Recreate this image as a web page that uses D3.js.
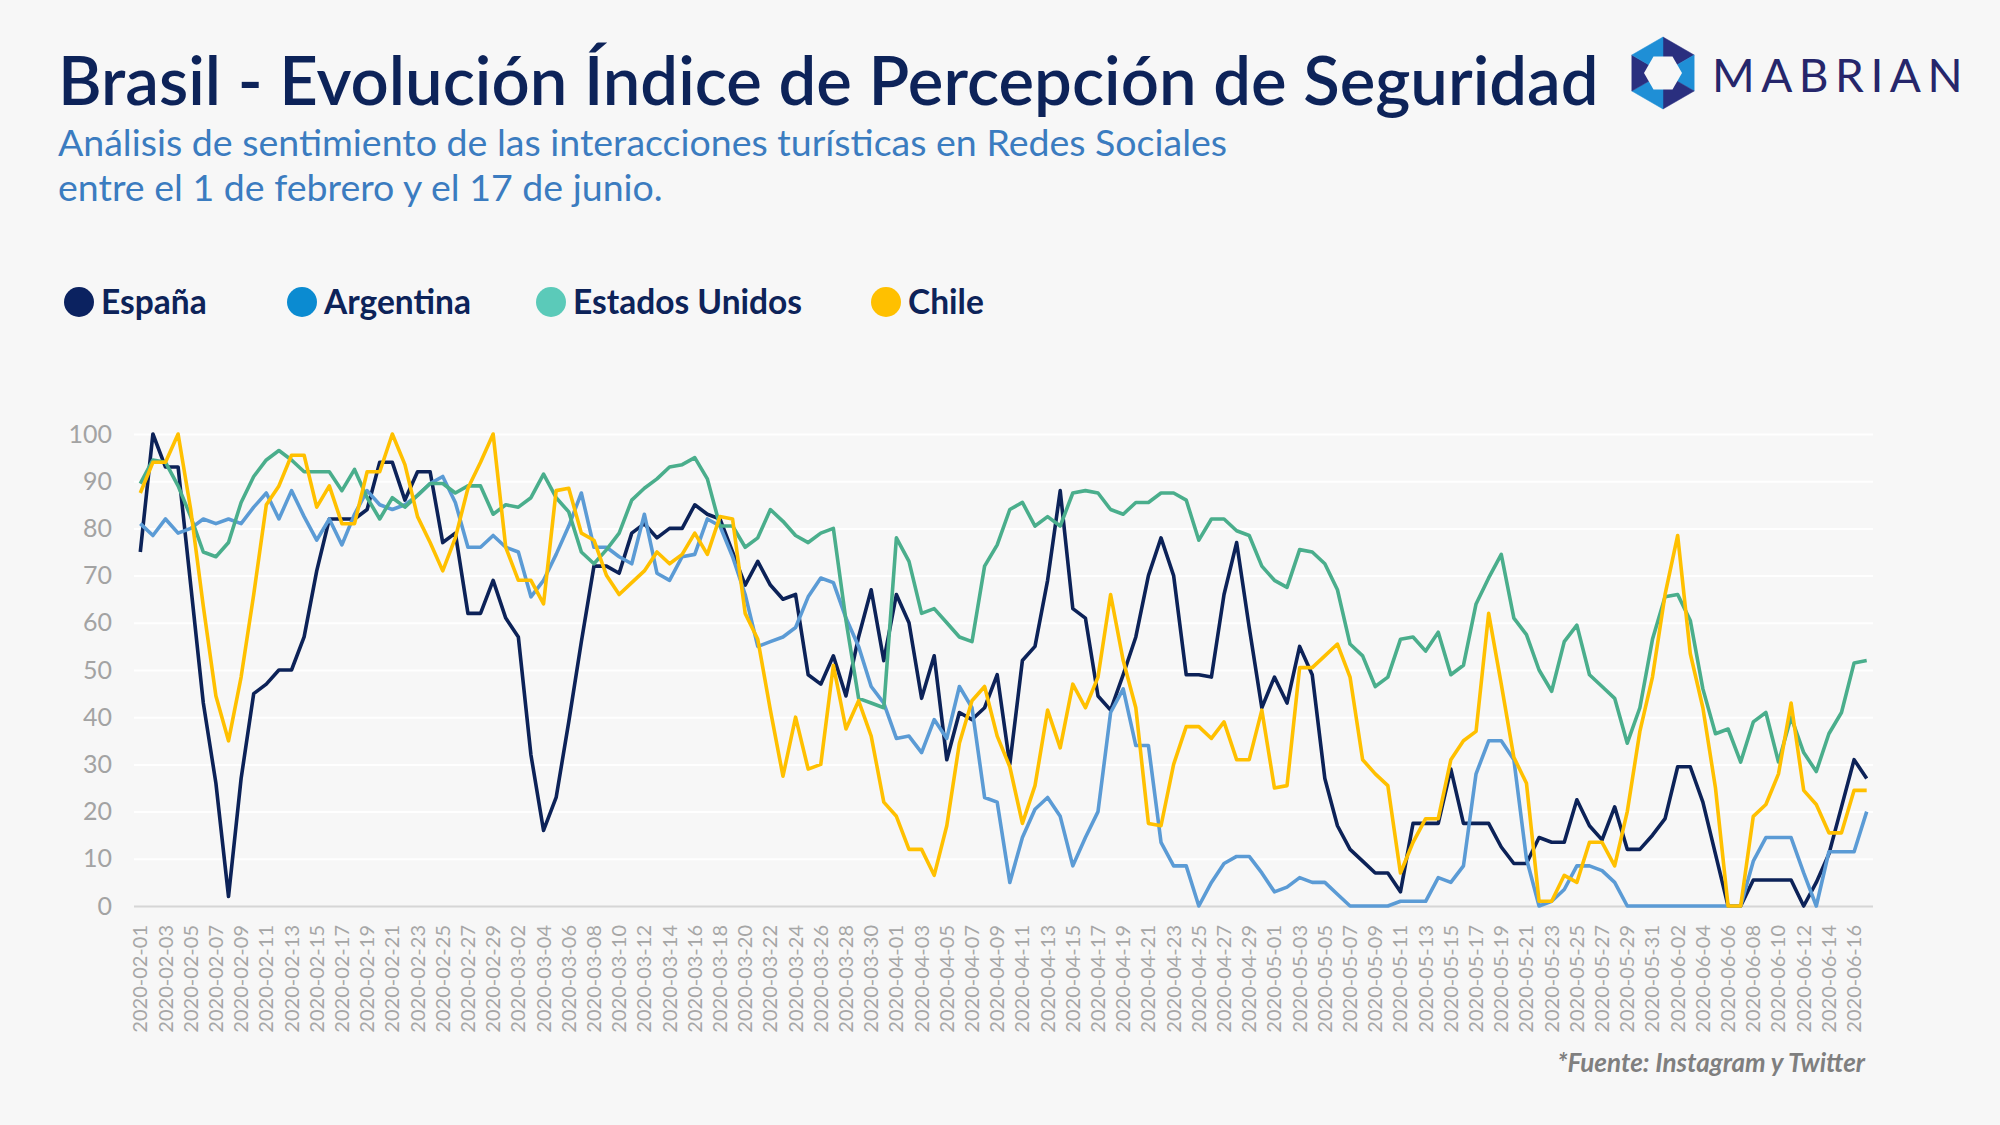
<!DOCTYPE html>
<html>
<head>
<meta charset="utf-8">
<script src="https://cdn.jsdelivr.net/npm/d3@7"></script>
<style>
  html, body { margin: 0; padding: 0; background: #f7f7f7; }
  svg { display: block; font-family: Lato, "Open Sans", sans-serif; }
</style>
</head>
<body>
<svg id="chart" width="2000" height="1125"></svg>
<script>
// daily categories: 2020-02-01 .. 2020-06-17
const startDate = new Date(2020, 1, 1);
const endDate = new Date(2020, 5, 18);

const seriesNames = ["España", "Argentina", "Estados Unidos", "Chile"];

const espana = [
  75, 100, 93, 93, 68, 43, 26, 2, 27, 45, 47, 50, 50, 57, 71, 82, 82, 82, 84, 94,
  94, 86, 92, 92, 77, 79, 62, 62, 69, 61, 57, 32, 16, 23, 39, 56, 72, 72, 70.5, 79,
  81, 78, 80, 80, 85, 83, 82, 75, 68, 73, 68, 65, 66, 49, 47, 53, 44.5, 57, 67, 52,
  66, 60, 44, 53, 31, 41, 39.5, 42, 49, 30, 52, 55, 69, 88, 63, 61, 44.5, 41.5, 49, 57,
  70, 78, 70, 49, 49, 48.5, 66, 77, 59, 42, 48.5, 43, 55, 49, 27, 17, 12, 9.5, 7, 7,
  3, 17.5, 17.5, 17.5, 29, 17.5, 17.5, 17.5, 12.5, 9, 9, 14.5, 13.5, 13.5, 22.5, 17, 14, 21, 12, 12,
  15, 18.5, 29.5, 29.5, 22, 11, 0, 0, 5.5, 5.5, 5.5, 5.5, 0, 5, 11, 21, 31, 27
];

const argentina = [
  81, 78.5, 82, 79, 80, 82, 81, 82, 81, 84.5, 87.5, 82, 88, 82.5, 77.5, 82, 76.5, 83, 88, 85,
  84, 85, 87, 89.5, 91, 85.5, 76, 76, 78.5, 76, 75, 65.5, 69, 74.5, 80.5, 87.5, 76, 76, 74, 72.5,
  83, 70.5, 69, 74, 74.5, 82, 80.5, 74, 66, 55, 56, 57, 59, 65.5, 69.5, 68.5, 61, 55, 46.5, 43,
  35.5, 36, 32.5, 39.5, 35.5, 46.5, 42, 23, 22, 5, 14.5, 20.5, 23, 19, 8.5, 14.5, 20, 41, 46, 34,
  34, 13.5, 8.5, 8.5, 0, 5, 9, 10.5, 10.5, 7, 3, 4, 6, 5, 5, 2.5, 0, 0, 0, 0,
  1, 1, 1, 6, 5, 8.5, 28, 35, 35, 31, 10, 0, 1, 3.5, 8.5, 8.5, 7.5, 5, 0, 0,
  0, 0, 0, 0, 0, 0, 0, 0, 9.5, 14.5, 14.5, 14.5, 7, 0, 11.5, 11.5, 11.5, 20
];

const estadosUnidos = [
  89.5, 94.5, 94, 89, 82.5, 75, 74, 77, 85.5, 91, 94.5, 96.5, 94.5, 92, 92, 92, 88, 92.5, 86.5, 82,
  86.5, 84.5, 87, 89.5, 89.5, 87.5, 89, 89, 83, 85, 84.5, 86.5, 91.5, 86.5, 83.5, 75, 72.5, 75.5, 79, 86,
  88.5, 90.5, 93, 93.5, 95, 90.5, 80.5, 80.5, 76, 78, 84, 81.5, 78.5, 77, 79, 80, 60.5, 44, 43, 42,
  78, 73, 62, 63, 60, 57, 56, 72, 76.5, 84, 85.5, 80.5, 82.5, 80.5, 87.5, 88, 87.5, 84, 83, 85.5,
  85.5, 87.5, 87.5, 86, 77.5, 82, 82, 79.5, 78.5, 72, 69, 67.5, 75.5, 75, 72.5, 67, 55.5, 53, 46.5, 48.5,
  56.5, 57, 54, 58, 49, 51, 64, 69.5, 74.5, 61, 57.5, 50, 45.5, 56, 59.5, 49, 46.5, 44, 34.5, 42,
  56.5, 65.5, 66, 60.5, 46, 36.5, 37.5, 30.5, 39, 41, 30.5, 40, 32.5, 28.5, 36.5, 41, 51.5, 52
];

const chile = [
  87.5, 94, 94, 100, 84, 63.5, 44.5, 35, 48.5, 66, 85, 89, 95.5, 95.5, 84.5, 89, 81, 81, 92, 92,
  100, 93.5, 82.5, 77, 71, 78, 88.5, 94, 100, 76, 69, 69, 64, 88, 88.5, 79, 77.5, 70, 66, 68.5,
  71, 75, 72.5, 74.5, 79, 74.5, 82.5, 82, 62, 56.5, 41.5, 27.5, 40, 29, 30, 51, 37.5, 43.5, 36, 22,
  19, 12, 12, 6.5, 17, 34.5, 43.5, 46.5, 36, 29.5, 17.5, 25.5, 41.5, 33.5, 47, 42, 48.5, 66, 52, 42,
  17.5, 17, 30, 38, 38, 35.5, 39, 31, 31, 41.5, 25, 25.5, 50.5, 50.5, 53, 55.5, 48.5, 31, 28, 25.5,
  7, 13.5, 18.5, 18.5, 31, 35, 37, 62, 47, 31.5, 26, 1, 1, 6.5, 5, 13.5, 13.5, 8.5, 20, 37,
  48.5, 66, 78.5, 53.5, 42, 25, 0, 0, 19, 21.5, 28, 43, 24.5, 21.5, 15.5, 15.5, 24.5, 24.5
];

const yTicks = [0, 10, 20, 30, 40, 50, 60, 70, 80, 90, 100];

const lineColors = ["#0c2258", "#5b9bd5", "#4aae8c", "#ffc000"];
const legendColors = ["#0b2260", "#0b8bd1", "#5bcab9", "#ffc000"];

const dates = d3.timeDay.range(startDate, endDate);
const seriesData = [espana, argentina, estadosUnidos, chile].map((values, k) => ({
  name: seriesNames[k],
  points: values.map((v, i) => ({ date: dates[i], value: v })),
}));

const svg = d3.select("#chart");
const fmt = d3.timeFormat("%Y-%m-%d");

svg.append("rect").attr("width", 2000).attr("height", 1125).attr("fill", "#f7f7f7");

// titles
svg.append("text")
  .attr("x", 58).attr("y", 105)
  .attr("fill", "#0d2359")
  .style("font-size", "67px")
  .style("font-weight", 600)
  .text("Brasil - Evolución Índice de Percepción de Seguridad");

const sub = svg.append("text")
  .attr("fill", "#3b7cc0")
  .style("font-size", "37.5px");
sub.append("tspan").attr("x", 58).attr("y", 156)
  .text("Análisis de sentimiento de las interacciones turísticas en Redes Sociales");
sub.append("tspan").attr("x", 58).attr("y", 201)
  .text("entre el 1 de febrero y el 17 de junio.");

// logo
const logo = svg.append("g").attr("transform", "translate(1663,73)");
const hex = (r, rot) => d3.range(6).map((k) => {
  const a = (Math.PI / 3) * k + rot;
  return [r * Math.cos(a), r * Math.sin(a)];
});
const outer = hex(36, -Math.PI / 2);
const inner = hex(19, 0);
const ringColors = ["#2a2f7f", "#1f8fd6", "#2a2f7f", "#1f8fd6", "#2a2f7f", "#1f8fd6"];
outer.forEach((p, k) => {
  const q = outer[(k + 1) % 6];
  logo.append("path")
    .attr("d", `M0,0L${p[0]},${p[1]}L${q[0]},${q[1]}Z`)
    .attr("fill", ringColors[k])
    .attr("stroke", ringColors[k]).attr("stroke-width", 0.5);
});
logo.append("path")
  .attr("d", "M" + inner.map((p) => p.join(",")).join("L") + "Z")
  .attr("fill", "#f7f7f7");
svg.append("text")
  .attr("x", 1712).attr("y", 92)
  .attr("fill", "#26266b")
  .style("font-size", "46px")
  .style("font-weight", 400)
  .style("letter-spacing", "6.5px")
  .text("MABRIAN");

// legend
const legendX = [79, 302, 551, 886];
const legend = svg.append("g").selectAll("g")
  .data(seriesNames)
  .join("g")
  .attr("transform", (d, i) => `translate(${legendX[i]},302)`);
legend.append("circle").attr("r", 15).attr("fill", (d, i) => legendColors[i]);
legend.append("text")
  .attr("x", 22).attr("dy", "0.35em")
  .attr("fill", "#0d2359")
  .style("font-size", "33.5px")
  .style("font-weight", 700)
  .text((d) => d);

// scales
const x = d3.scaleBand().domain(dates).range([134, 1873]).padding(0);
const y = d3.scaleLinear().domain([0, 100]).range([906, 434]);
const cx = (d) => x(d) + x.bandwidth() / 2;

// grid + y labels
const yAxis = svg.append("g")
  .attr("transform", "translate(134,0)")
  .call(d3.axisLeft(y).tickValues(yTicks).tickSize(-1739).tickPadding(22));
yAxis.select(".domain").remove();
yAxis.selectAll(".tick line")
  .attr("stroke", (d) => (d === 0 ? "#d6d6d6" : "#ffffff"))
  .attr("stroke-width", 2);
yAxis.selectAll(".tick text")
  .attr("fill", "#a3a3a3")
  .style("font-size", "25px")
  .style("font-family", "Lato, sans-serif");

// x labels
const xAxis = svg.append("g")
  .attr("transform", "translate(0,906)")
  .call(d3.axisBottom(x)
    .tickValues(dates.filter((d, i) => i % 2 === 0))
    .tickFormat(fmt)
    .tickSize(0));
xAxis.select(".domain").remove();
xAxis.selectAll(".tick text")
  .attr("transform", "rotate(-90)")
  .attr("x", -19).attr("y", 0).attr("dy", "0.35em")
  .style("text-anchor", "end")
  .attr("fill", "#a6a6a6")
  .style("font-size", "20px")
  .style("font-family", "Lato, sans-serif");

// lines
const line = d3.line().x((d) => cx(d.date)).y((d) => y(d.value));
svg.append("g").selectAll("path")
  .data(seriesData)
  .join("path")
  .attr("d", (d) => line(d.points))
  .attr("fill", "none")
  .attr("stroke", (d, i) => lineColors[i])
  .attr("stroke-width", 3.6)
  .attr("stroke-linejoin", "round");

// source note
svg.append("text")
  .attr("x", 1865).attr("y", 1072)
  .attr("text-anchor", "end")
  .attr("fill", "#7f7f7f")
  .style("font-size", "26px")
  .style("font-style", "italic")
  .style("font-weight", 700)
  .text("*Fuente: Instagram y Twitter");
</script>
</body>
</html>
